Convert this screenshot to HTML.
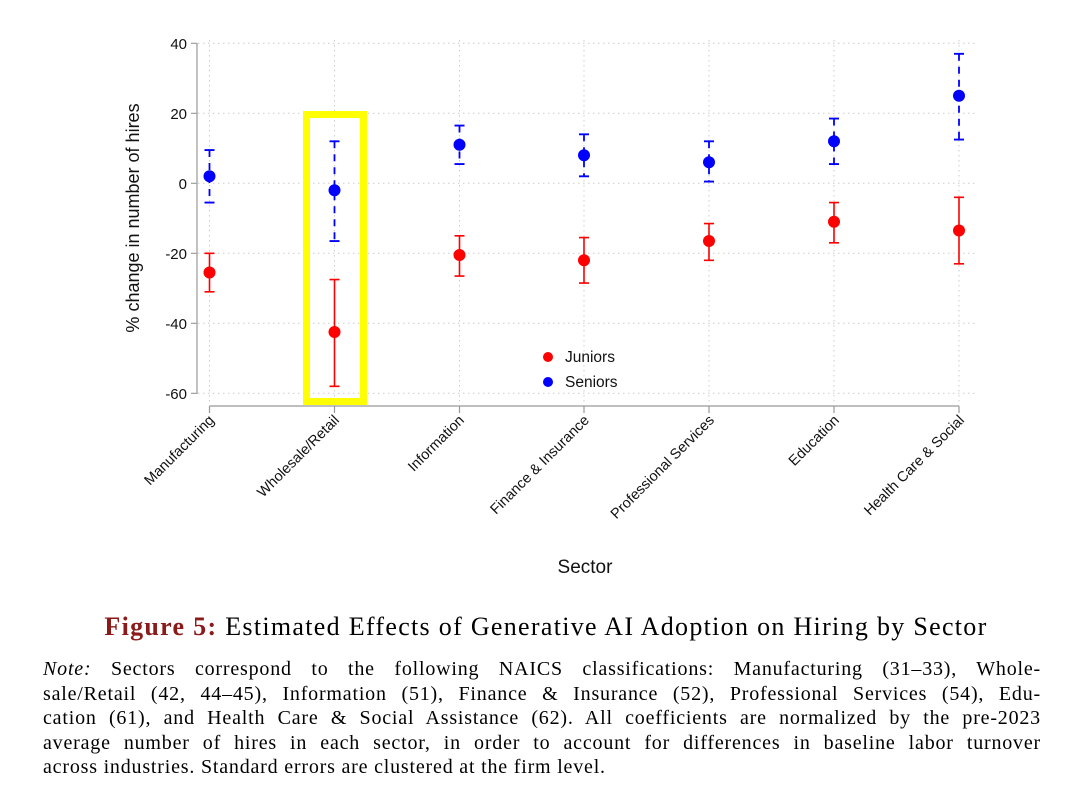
<!DOCTYPE html><html><head><style>
body{margin:0;background:#fff;width:1080px;height:802px;overflow:hidden;position:relative}
.cap{position:absolute;left:43px;font-family:"Liberation Serif",serif;color:#000}
.ln{width:998px;font-size:20px;letter-spacing:0.8px;height:24.5px;line-height:24.5px;text-align:justify;text-align-last:justify;white-space:nowrap}
</style></head><body>
<svg width="1080" height="802" style="position:absolute;left:0;top:0" font-family="Liberation Sans, sans-serif">
<g stroke="#ccc" stroke-width="1" stroke-dasharray="1.5,3.5">
<line x1="198" y1="43.3" x2="975" y2="43.3"/><line x1="198" y1="113.3" x2="975" y2="113.3"/><line x1="198" y1="183.3" x2="975" y2="183.3"/><line x1="198" y1="253.3" x2="975" y2="253.3"/><line x1="198" y1="323.3" x2="975" y2="323.3"/><line x1="198" y1="393.3" x2="975" y2="393.3"/>
<line x1="209.5" y1="40" x2="209.5" y2="405"/><line x1="334.5" y1="40" x2="334.5" y2="405"/><line x1="459.5" y1="40" x2="459.5" y2="405"/><line x1="584" y1="40" x2="584" y2="405"/><line x1="709" y1="40" x2="709" y2="405"/><line x1="834" y1="40" x2="834" y2="405"/><line x1="959" y1="40" x2="959" y2="405"/>
</g>
<g stroke="#999" stroke-width="1.2" fill="none">
<line x1="197" y1="43" x2="197" y2="394"/>
<path d="M191 43.3H197M191 113.3H197M191 183.3H197M191 253.3H197M191 323.3H197M191 393.3H197"/>
<line x1="209.5" y1="406" x2="959" y2="406"/>
<path d="M209.5 406V413M334.5 406V413M459.5 406V413M584 406V413M709 406V413M834 406V413M959 406V413"/>
</g>
<g font-size="15" text-anchor="end" fill="#111">
<text x="187" y="49">40</text><text x="187" y="119">20</text><text x="187" y="189">0</text><text x="187" y="259">-20</text><text x="187" y="329">-40</text><text x="187" y="399">-60</text>
</g>
<text transform="translate(139,218) rotate(-90)" font-size="18" text-anchor="middle" fill="#111">% change in number of hires</text>
<rect x="306.5" y="114.5" width="57" height="287" fill="none" stroke="#ffff00" stroke-width="7"/>
<g font-size="14.5" text-anchor="end" fill="#111">
<text transform="translate(215,421) rotate(-45)">Manufacturing</text>
<text transform="translate(340,421) rotate(-45)">Wholesale/Retail</text>
<text transform="translate(465,421) rotate(-45)">Information</text>
<text transform="translate(590,421) rotate(-45)">Finance &amp; Insurance</text>
<text transform="translate(715,421) rotate(-45)">Professional Services</text>
<text transform="translate(840,421) rotate(-45)">Education</text>
<text transform="translate(965,421) rotate(-45)">Health Care &amp; Social</text>
</g>
<text x="585" y="573" font-size="19" text-anchor="middle" fill="#111">Sector</text>
<g stroke="#f00" stroke-width="1.6" fill="none">
<path d="M209.5 253.3V291.8M204.5 253.3H214.5M204.5 291.8H214.5"/>
<path d="M334.5 279.55V386.3M329.5 279.55H339.5M329.5 386.3H339.5"/>
<path d="M459.5 235.8V276.05M454.5 235.8H464.5M454.5 276.05H464.5"/>
<path d="M584 237.55V283.05M579 237.55H589M579 283.05H589"/>
<path d="M709 223.55V260.3M704 223.55H714M704 260.3H714"/>
<path d="M834 202.55V242.8M829 202.55H839M829 242.8H839"/>
<path d="M959 197.3V263.8M954 197.3H964M954 263.8H964"/>
</g>
<g fill="#f00">
<circle cx="209.5" cy="272.55" r="6"/><circle cx="334.5" cy="332.05" r="6"/><circle cx="459.5" cy="255.05" r="6"/><circle cx="584" cy="260.3" r="6"/><circle cx="709" cy="241.05" r="6"/><circle cx="834" cy="221.8" r="6"/><circle cx="959" cy="230.55" r="6"/>
</g>
<g stroke="#00f" stroke-width="1.8" fill="none">
<g stroke-dasharray="7,6">
<path d="M209.5 150.05V202.55"/><path d="M334.5 141.3V241.05"/><path d="M459.5 125.55V164.05"/><path d="M584 134.3V176.3"/><path d="M709 141.3V181.55"/><path d="M834 118.55V164.05"/><path d="M959 53.8V139.55"/>
</g>
<path d="M204.5 150.05H214.5M204.5 202.55H214.5M329.5 141.3H339.5M329.5 241.05H339.5M454.5 125.55H464.5M454.5 164.05H464.5M579 134.3H589M579 176.3H589M704 141.3H714M704 181.55H714M829 118.55H839M829 164.05H839M954 53.8H964M954 139.55H964"/>
</g>
<g fill="#00f">
<circle cx="209.5" cy="176.3" r="6"/><circle cx="334.5" cy="190.3" r="6"/><circle cx="459.5" cy="144.8" r="6"/><circle cx="584" cy="155.3" r="6"/><circle cx="709" cy="162.3" r="6"/><circle cx="834" cy="141.3" r="6"/><circle cx="959" cy="95.8" r="6"/>
</g>
<circle cx="548" cy="357" r="5" fill="#f00"/><text x="565" y="362" font-size="15.5" fill="#111">Juniors</text>
<circle cx="548" cy="382" r="5" fill="#00f"/><text x="565" y="387" font-size="15.5" fill="#111">Seniors</text>
</svg>
<div class="cap" style="top:612px;left:0;width:1080px;text-align:center;font-size:26px;letter-spacing:1.3px;padding-left:6px"><b style="color:#8b1a1a">Figure 5:</b> Estimated Effects of Generative AI Adoption on Hiring by Sector</div>
<div class="cap" style="top:657px">
<div class="ln"><i>Note:</i> Sectors correspond to the following NAICS classifications: Manufacturing (31–33), Whole-</div>
<div class="ln">sale/Retail (42, 44–45), Information (51), Finance &amp; Insurance (52), Professional Services (54), Edu-</div>
<div class="ln">cation (61), and Health Care &amp; Social Assistance (62). All coefficients are normalized by the pre-2023</div>
<div class="ln">average number of hires in each sector, in order to account for differences in baseline labor turnover</div>
<div class="ln" style="text-align-last:left">across industries. Standard errors are clustered at the firm level.</div>
</div>
</body></html>
